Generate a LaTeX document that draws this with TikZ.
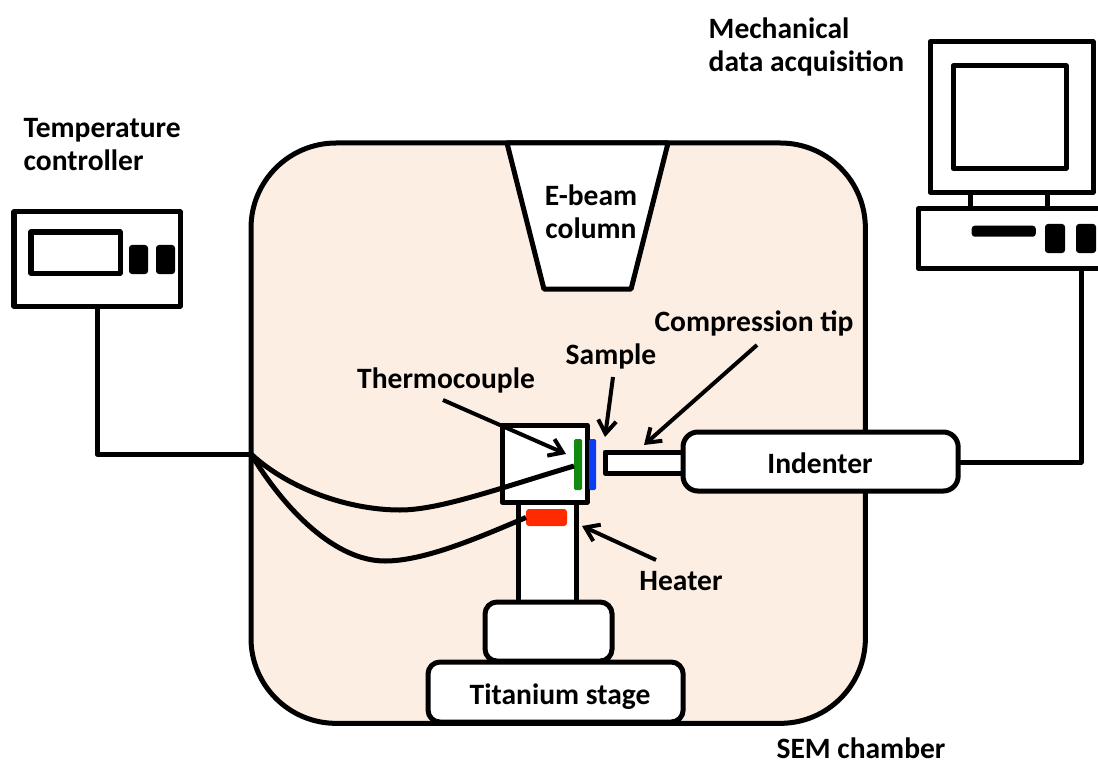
\documentclass[tikz,border=0pt]{standalone}
\usepackage{fontspec}
\setmainfont{Carlito}
\usetikzlibrary{arrows.meta,positioning,shapes.geometric}
\definecolor{chamberfill}{HTML}{FDEEE4}
\definecolor{tcgreen}{HTML}{128A12}
\definecolor{sampleblue}{HTML}{0B3CF5}
\definecolor{heaterred}{HTML}{FF2A00}
\tikzset{
  part/.style={draw, fill=white, line width=0.05cm, line join=round, inner sep=0pt,
               outer sep=0pt, anchor=north west},
  softpart/.style={part, rounded corners=0.12cm},
  knob/.style={fill=black, rounded corners=0.03cm, inner sep=0pt, outer sep=0pt,
               anchor=north west, minimum width=0.19cm, minimum height=0.29cm},
  strip/.style={rounded corners=0.015cm, inner sep=0pt, outer sep=0pt, anchor=north west},
  wire/.style={line width=0.05cm, line join=round},
  pointer/.style={-{Straight Barb[length=1.3mm,width=1.8mm]}, line width=0.04cm},
  lbl/.style={font=\fontsize{8.4}{9.4}\selectfont\bfseries, align=left, inner sep=0pt}
}
\begin{document}
\begin{tikzpicture}[x=0.01cm, y=-0.01cm]
  \path[use as bounding box, clip] (0,0) rectangle (1098,761);
  % chamber and column
  \node[part, fill=chamberfill, rounded corners=0.85cm, minimum width=6.14cm, minimum height=5.8cm] (chamber) at (251,143) {};
  \node[draw, fill=white, line width=0.05cm, line join=round, trapezium, shape border rotate=180, trapezium stretches=true,
        trapezium angle=67, minimum width=1.61cm, minimum height=1.46cm, inner sep=1pt, outer sep=0pt] (column) at (587.5,216) {};
  \node[lbl, align=center] (columnlbl) at (591,212) {E-beam\\column};
  % temperature controller
  \node[part, minimum width=1.66cm, minimum height=0.94cm] (controller) at (14,212) {};
  \node[part, minimum width=0.89cm, minimum height=0.41cm] (display) at (31,232) {};
  \node[knob] (knoba) at (129,245) {};
  \node[knob, right=0.08cm of knoba.north east, anchor=north west] (knobb) {};
  \node[lbl, anchor=north west] (controllerlbl) at (23,118) {Temperature\\controller};
  % acquisition computer
  \node[part, minimum width=0.77cm, minimum height=0.2cm] (neck) at (970,191) {};
  \node[part, minimum width=1.63cm, minimum height=1.5cm] (monitor) at (930,42) {};
  \node[part, minimum width=1.13cm, minimum height=1.02cm] (screen) at (953,66) {};
  \node[part, minimum width=2.2cm, minimum height=0.59cm] (tower) at (918,209) {};
  \node[fill=black, rounded corners=0.03cm, inner sep=0pt, anchor=north west, minimum width=0.64cm, minimum height=0.11cm] (slot) at (971,225) {};
  \node[knob, minimum width=0.2cm] (knobc) at (1045,224) {};
  \node[knob, minimum width=0.2cm, right=0.11cm of knobc.north east, anchor=north west] (knobd) {};
  \node[lbl, anchor=north west] (computerlbl) at (708,17) {Mechanical\\data acquisition};
  % stage stack
  \node[part, minimum width=0.58cm, minimum height=1.0cm] (post) at (518,502) {};
  \node[softpart, minimum width=1.27cm, minimum height=0.59cm] (block) at (485,602) {};
  \node[softpart, minimum width=2.55cm, minimum height=0.6cm] (stage) at (428,662) {};
  \node[lbl] (stagelbl) at (560,697) {Titanium stage};
  \node[part, minimum width=0.85cm, minimum height=0.77cm] (holder) at (502,425) {};
  % sample and indenter
  \node[part, minimum width=0.78cm, minimum height=0.21cm] (tip) at (605,452) {};
  \node[softpart, rounded corners=0.15cm, minimum width=2.75cm, minimum height=0.59cm] (indenter) at (683,432) {};
  \node[lbl] (indenterlbl) at (820,463) {Indenter};
  \node[strip, fill=tcgreen, minimum width=0.08cm, minimum height=0.51cm] (couple) at (574,439) {};
  \node[strip, fill=sampleblue, minimum width=0.07cm, minimum height=0.51cm] (sample) at (589,439) {};
  \node[strip, fill=heaterred, rounded corners=0.03cm, minimum width=0.41cm, minimum height=0.17cm] (heater) at (526,509) {};
  % wiring
  \coordinate (feed) at (251,454);
  \coordinate (bend) at (97,454);
  \coordinate (tcout) at (97,306);
  \coordinate (tcin) at (574,466);
  \coordinate (upperlow) at (400,510);
  \coordinate (lowerlow) at (385,561);
  \coordinate (indout) at (958,462);
  \coordinate (daqbend) at (1081,462);
  \coordinate (daqin) at (1081,268);
  \draw[wire] (tcout) -- (bend) -- (feed);
  \draw[wire] (feed) .. controls (290,490) and (350,510) .. (upperlow) .. controls (440,510) and (500,488) .. (tcin);
  \draw[wire] (feed) .. controls (285,510) and (335,561) .. (lowerlow) .. controls (425,561) and (480,537) .. (heater.west);
  \draw[wire] (indout) -- (daqbend) -- (daqin);
  % labels and pointers
  \node[lbl] (tiplbl) at (754,323) {Compression tip};
  \node[lbl] (samplelbl) at (611,356) {Sample};
  \node[lbl] (couplelbl) at (446,380) {Thermocouple};
  \node[lbl] (heaterlbl) at (681,581) {Heater};
  \node[lbl] (chamberlbl) at (861,748) {SEM chamber};
  \coordinate (couplefrom) at (443,400);
  \coordinate (coupleto) at (566,454);
  \coordinate (samplefrom) at (613,377);
  \coordinate (sampleto) at (605,437);
  \coordinate (tipfrom) at (757,345);
  \coordinate (tipto) at (644,445);
  \coordinate (heaterfrom) at (656,560);
  \coordinate (heaterto) at (582,526);
  \draw[pointer] (couplefrom) -- (coupleto);
  \draw[pointer] (samplefrom) -- (sampleto);
  \draw[pointer] (tipfrom) -- (tipto);
  \draw[pointer] (heaterfrom) -- (heaterto);
\end{tikzpicture}
\end{document}
